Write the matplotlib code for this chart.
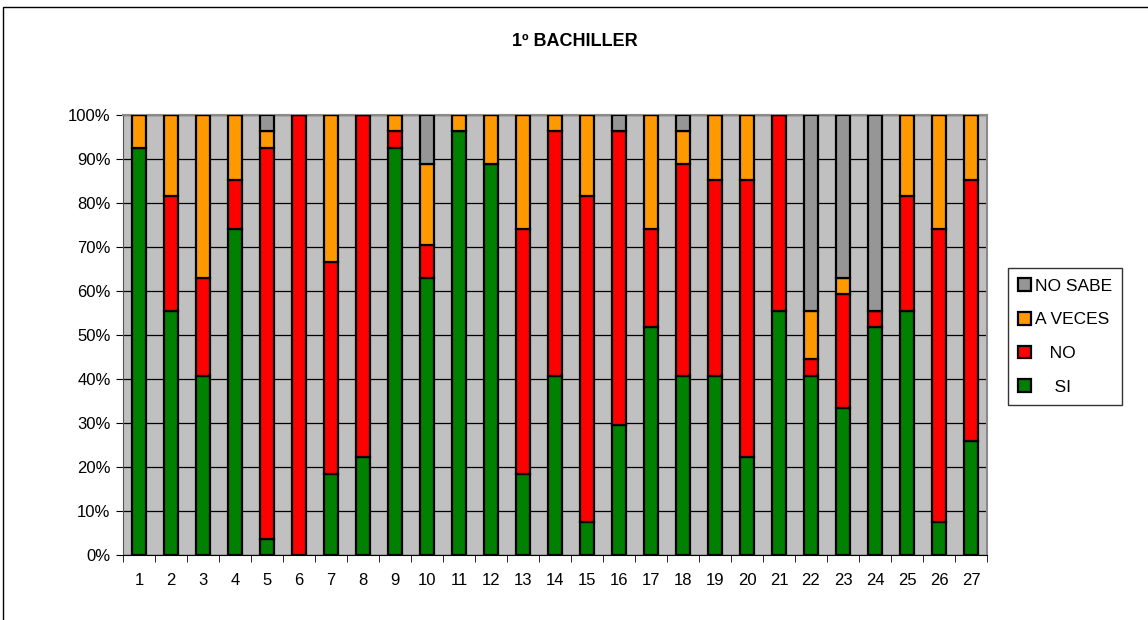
import matplotlib
matplotlib.use("Agg")
import matplotlib.pyplot as plt
import numpy as np
from matplotlib.patches import Rectangle
from matplotlib.ticker import FixedLocator, PercentFormatter

plt.rcParams['font.family'] = ['Liberation Sans', 'DejaVu Sans']

# answers per question (27 students)
preguntas = [str(i) for i in range(1, 28)]
si = [25, 15, 11, 20, 1, 0, 5, 6, 25, 17, 26, 24, 5, 11, 2, 8, 14, 11, 11, 6, 15, 11, 9, 14, 15, 2, 7]
no = [0, 7, 6, 3, 24, 27, 13, 21, 1, 2, 0, 0, 15, 15, 20, 18, 6, 13, 12, 17, 12, 1, 7, 1, 7, 18, 16]
a_veces = [2, 5, 10, 4, 1, 0, 9, 0, 1, 5, 1, 3, 7, 1, 5, 0, 7, 2, 4, 4, 0, 3, 1, 0, 5, 7, 4]
no_sabe = [0, 0, 0, 0, 1, 0, 0, 0, 0, 3, 0, 0, 0, 0, 0, 1, 0, 1, 0, 0, 0, 12, 10, 12, 0, 0, 0]

series = [("    SI", si, "#008000"),
          ("   NO", no, "#FF0000"),
          ("A VECES", a_veces, "#FF9900"),
          ("NO SABE", no_sabe, "#969696")]

fig = plt.figure(figsize=(11.48, 6.2), dpi=100)
ax = fig.add_axes([123 / 1148, 1 - 555 / 620, (987 - 123) / 1148, (555 - 115) / 620])
ax.set_facecolor("#C0C0C0")

total = np.sum([s[1] for s in series], axis=0)
x = np.arange(len(preguntas))
bottom = np.zeros(len(preguntas))
handles = []
for label, vals, color in series:
    pct = np.array(vals) / total * 100
    b = ax.bar(x, pct, 0.42, bottom=bottom, color=color, edgecolor="black",
               linewidth=1.6, label=label, zorder=3)
    handles.append(b)
    bottom += pct

ax.set_xlim(-0.5, len(preguntas) - 0.5)
ax.set_ylim(0, 100)
ax.set_yticks(np.arange(0, 101, 10))
ax.yaxis.set_major_formatter(PercentFormatter(decimals=0))
ax.yaxis.grid(True, color="black", linewidth=0.9, zorder=1)
ax.set_axisbelow(True)

ax.set_xticks(x)
ax.set_xticklabels(preguntas)
ax.xaxis.set_minor_locator(FixedLocator(np.arange(-0.5, len(preguntas), 1)))
ax.tick_params(axis="x", which="major", length=0, pad=13, labelsize=12)
ax.tick_params(axis="x", which="minor", length=5, color="black", direction="out")
ax.tick_params(axis="y", length=5, color="black", labelsize=12, pad=4)

for side in ["top", "right"]:
    ax.spines[side].set_color("#8a8a8a")
    ax.spines[side].set_linewidth(1.5)
ax.spines["left"].set_color("#555555")
ax.spines["bottom"].set_color("black")

fig.text(575 / 1148, 1 - 42 / 620, "1º BACHILLER", ha="center", va="center",
         fontsize=13, fontweight="bold")

leg = fig.legend(handles[::-1], [s[0] for s in series][::-1],
                 loc="upper left", bbox_to_anchor=(1008 / 1148, 1 - 268 / 620),
                 frameon=True, fancybox=False, edgecolor="black", fontsize=12.5,
                 handlelength=0.75, handleheight=0.75, handletextpad=0.2,
                 labelspacing=1.05, borderpad=0.6, borderaxespad=0)
leg.get_frame().set_linewidth(1.0)

fig.patches.append(Rectangle((3 / 1148, -0.05), 1.2, 1 - 7 / 620 + 0.05,
                             transform=fig.transFigure, fill=False,
                             edgecolor="black", linewidth=1.0))

fig.savefig("out.png", dpi=100)
